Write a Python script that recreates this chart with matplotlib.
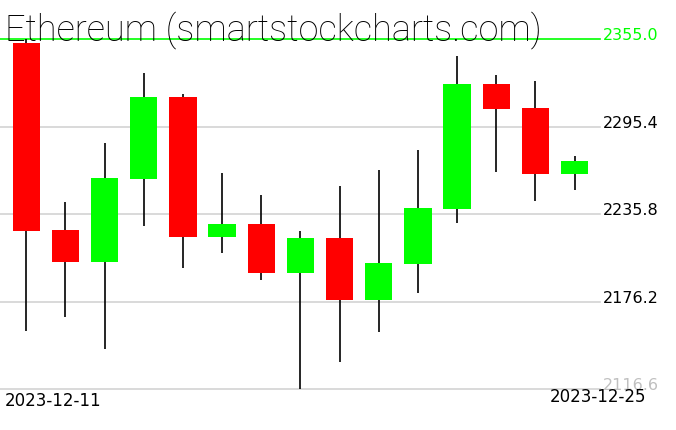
import matplotlib
matplotlib.use("Agg")
import matplotlib.pyplot as plt

# data
dates = ["2023-12-11", "2023-12-12", "2023-12-13", "2023-12-14", "2023-12-15",
         "2023-12-16", "2023-12-17", "2023-12-18", "2023-12-19", "2023-12-20",
         "2023-12-21", "2023-12-22", "2023-12-23", "2023-12-24", "2023-12-25"]
opens  = [2352.5, 2225.0, 2203.4, 2260.0, 2315.7, 2220.4, 2229.1, 2195.9, 2219.5, 2177.5,
          2202.0, 2239.5, 2324.5, 2308.2, 2263.4]
highs  = [2355.0, 2244.1, 2284.3, 2332.2, 2317.7, 2263.9, 2248.9, 2224.3, 2255.0, 2265.9,
          2279.5, 2343.6, 2330.7, 2326.6, 2275.4]
lows   = [2156.4, 2165.9, 2144.1, 2227.9, 2199.3, 2209.5, 2191.1, 2116.6, 2135.2, 2155.7,
          2182.3, 2230.0, 2264.7, 2245.0, 2252.5]
closes = [2224.5, 2203.4, 2260.4, 2315.7, 2220.4, 2229.1, 2195.9, 2219.5, 2177.5, 2202.5,
          2240.0, 2324.5, 2307.7, 2263.4, 2272.0]
ytick_values = [2355.0, 2295.4, 2235.8, 2176.2, 2116.6]
ytick_labels = ["2355.0", "2295.4", "2235.8", "2176.2", "2116.6"]
title = "Ethereum (smartstockcharts.com)"

W, H = 676, 431
fig = plt.figure(figsize=(W / 100, H / 100), dpi=100)
ax_left, ax_right = 0, 600
ax_top, ax_bottom = 40.3, 390.0
ax = fig.add_axes([ax_left / W, (H - ax_bottom) / H, (ax_right - ax_left) / W, (ax_bottom - ax_top) / H])
ax.set_xlim(-0.672, 14.65)
ax.set_ylim(ytick_values[-1], ytick_values[0])
ax.axis("off")

# grid lines
for i, v in enumerate(ytick_values):
    if i == 0:
        ax.axhline(v, color="#00ff00", lw=1.2, zorder=1, clip_on=False)
    else:
        ax.axhline(v, color="#d3d3d3", lw=1.2, zorder=1, clip_on=False)

xs = list(range(len(opens)))
colors = ["#00ff00" if c >= o else "#ff0000" for o, c in zip(opens, closes)]
ax.vlines(xs, lows, highs, color="black", lw=1.2, zorder=2, clip_on=False)
ax.bar(xs, [abs(c - o) for o, c in zip(opens, closes)],
       bottom=[min(o, c) for o, c in zip(opens, closes)],
       width=0.7, color=colors, zorder=3, linewidth=0, clip_on=False)

# y labels (right)
label_colors = ["#00ff00", "black", "black", "black", "#c0c0c0"]
for v, lab, col in zip(ytick_values, ytick_labels, label_colors):
    ax.text(1.005, v, lab, transform=ax.get_yaxis_transform(), ha="left", va="baseline",
            fontsize=11.5, color=col, family="DejaVu Sans", clip_on=False)

# date labels
fig.text(5 / W, (H - 406) / H, dates[0], ha="left", va="baseline", fontsize=12, color="black")
fig.text(646 / W, (H - 402) / H, dates[-1], ha="right", va="baseline", fontsize=12, color="black")

# title
fig.text(5 / W, (H - 40) / H, title, ha="left", va="baseline", fontsize=26,
         color="black", family=["Roboto", "DejaVu Sans"], fontweight="light")

fig.savefig("out.png", dpi=100)
